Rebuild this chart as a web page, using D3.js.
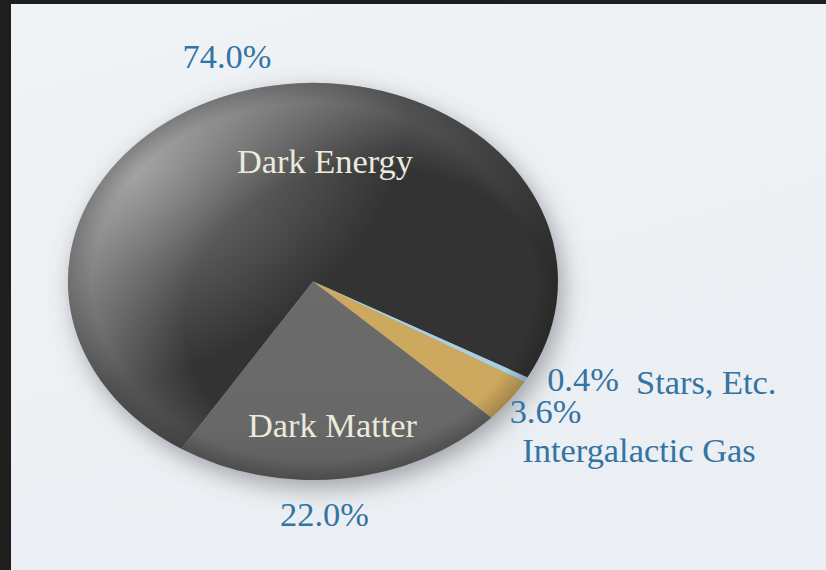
<!DOCTYPE html>
<html>
<head>
<meta charset="utf-8">
<script src="https://cdn.jsdelivr.net/npm/d3@7/dist/d3.min.js"></script>
<style>
  html, body { margin: 0; padding: 0; background: #1e1e1e; }
  svg { display: block; }
  text { font-family: "Liberation Serif", serif; font-size: 34.4px; }
</style>
</head>
<body>
<svg class="pie-chart" width="826" height="570"></svg>
<script>
const categories = ["Dark Energy", "Stars, Etc.", "Intergalactic Gas", "Dark Matter"];
const shares = [74.0, 0.4, 3.6, 22.0];
const shareLabels = ["74.0%", "0.4%", "3.6%", "22.0%"];

const width = 826, height = 570;
const cx = 313, cy = 281.5, rx = 245, ry = 198.5;
const startDeg = 212.5;

const svg = d3.select("svg.pie-chart");
const defs = svg.append("defs");

const bg = defs.append("linearGradient").attr("id", "bg")
   .attr("x1", 0).attr("y1", 0).attr("x2", 0.4).attr("y2", 1);
bg.append("stop").attr("offset", "0%").attr("stop-color", "#f0f3f6");
bg.append("stop").attr("offset", "100%").attr("stop-color", "#ebeef2");

// soft glow towards the upper left of the big slice
const energy = defs.append("radialGradient").attr("id", "energy")
   .attr("gradientUnits", "userSpaceOnUse")
   .attr("cx", 0).attr("cy", 0).attr("r", 1)
   .attr("gradientTransform", "translate(-0.72,-0.55) rotate(-45) scale(1.25,0.95)");
energy.append("stop").attr("offset", "0%").attr("stop-color", "#808080");
energy.append("stop").attr("offset", "50%").attr("stop-color", "#585858");
energy.append("stop").attr("offset", "100%").attr("stop-color", "#333333");

// crescent of light along the upper left rim, off centre on purpose
const crescent = defs.append("radialGradient").attr("id", "crescent")
   .attr("gradientUnits", "userSpaceOnUse")
   .attr("cx", 0.25).attr("cy", 0.2).attr("r", 1.4);
crescent.append("stop").attr("offset", "55%").attr("stop-color", "#fff").attr("stop-opacity", 0);
crescent.append("stop").attr("offset", "90%").attr("stop-color", "#fff").attr("stop-opacity", 0.3);
crescent.append("stop").attr("offset", "100%").attr("stop-color", "#fff").attr("stop-opacity", 0.3);

const matter = defs.append("linearGradient").attr("id", "matter")
   .attr("gradientUnits", "userSpaceOnUse")
   .attr("x1", 0).attr("y1", 0).attr("x2", 0).attr("y2", 1);
matter.append("stop").attr("offset", "0%").attr("stop-color", "#6b6b6b");
matter.append("stop").attr("offset", "70%").attr("stop-color", "#686868");
matter.append("stop").attr("offset", "100%").attr("stop-color", "#5e5e5e");

// darkening at the rim
const rim = defs.append("radialGradient").attr("id", "rim")
   .attr("gradientUnits", "userSpaceOnUse")
   .attr("cx", 0).attr("cy", 0).attr("r", 1);
rim.append("stop").attr("offset", "90%").attr("stop-color", "#000").attr("stop-opacity", 0);
rim.append("stop").attr("offset", "100%").attr("stop-color", "#000").attr("stop-opacity", 0.2);

const shadow = defs.append("filter").attr("id", "shadow")
   .attr("x", "-20%").attr("y", "-20%").attr("width", "140%").attr("height", "140%");
shadow.append("feGaussianBlur").attr("stdDeviation", 12);

const sliceFill = d3.scaleOrdinal()
   .domain(categories)
   .range(["url(#energy)", "#a9d0e2", "#cda95f", "url(#matter)"]);

svg.append("rect")
   .attr("x", 11).attr("y", 4)
   .attr("width", width - 11).attr("height", height - 4)
   .attr("fill", "url(#bg)");

const pie = d3.pie()
   .sort(null)
   .startAngle(startDeg * Math.PI / 180)
   .endAngle((startDeg + 360) * Math.PI / 180);

const arcs = pie(shares);
const arc = d3.arc().innerRadius(0).outerRadius(1);

svg.append("ellipse")
   .attr("cx", cx + 5).attr("cy", cy + 8)
   .attr("rx", rx).attr("ry", ry)
   .attr("fill", "#5c6066").attr("fill-opacity", 0.55)
   .attr("filter", "url(#shadow)");

const pieGroup = svg.append("g")
   .attr("transform", `translate(${cx},${cy}) scale(${rx},${ry})`);

pieGroup.selectAll("path.slice")
   .data(arcs)
   .join("path")
   .attr("class", "slice")
   .attr("d", arc)
   .attr("fill", (d, i) => sliceFill(categories[i]));

pieGroup.append("path")
   .attr("d", arc(arcs[0]))
   .attr("fill", "url(#crescent)");

pieGroup.append("circle").attr("r", 1).attr("fill", "url(#rim)");

// [x, y] baseline anchors, in the same order as the data
const nameAt = [[325, 173], [636, 394], [639, 462], [332.5, 437]];
const shareAt = [[227, 68], [583, 391], [545.5, 423], [324.5, 526]];
const nameAnchor = ["middle", "start", "middle", "middle"];

svg.selectAll("text.name")
   .data(categories)
   .join("text")
   .attr("class", "name")
   .attr("x", (d, i) => nameAt[i][0])
   .attr("y", (d, i) => nameAt[i][1])
   .attr("text-anchor", (d, i) => nameAnchor[i])
   .attr("fill", (d, i) => (i === 0 || i === 3) ? "#eaeadd" : "#3274a4")
   .text(d => d);

svg.selectAll("text.share")
   .data(shareLabels)
   .join("text")
   .attr("class", "share")
   .attr("x", (d, i) => shareAt[i][0])
   .attr("y", (d, i) => shareAt[i][1])
   .attr("text-anchor", "middle")
   .attr("fill", "#3274a4")
   .text(d => d);
</script>
</body>
</html>
